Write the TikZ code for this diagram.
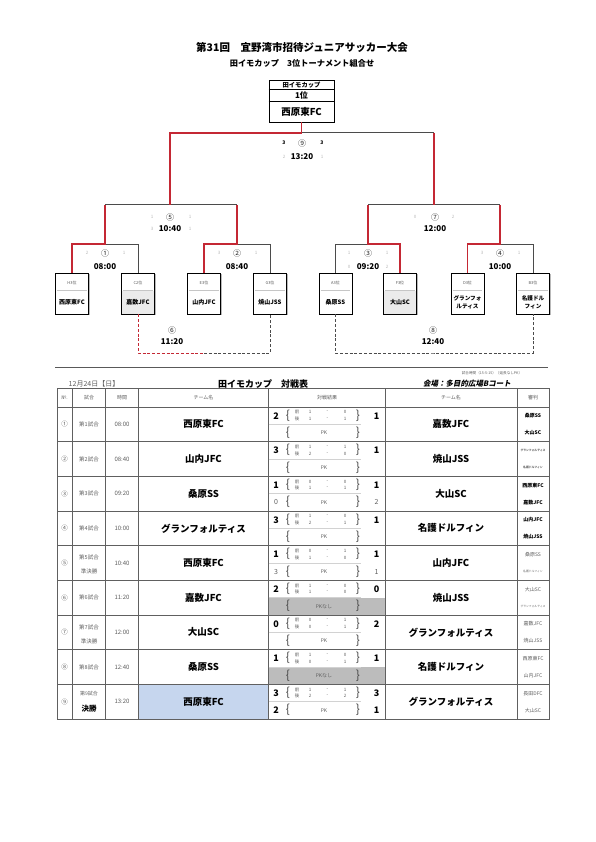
\documentclass[tikz,border=0pt]{standalone}
\usepackage{fontspec}
\setmainfont{Noto Sans CJK JP}
\newfontfamily\jpsl{Noto Sans CJK JP}[FakeSlant=0.2]
\usetikzlibrary{shadows}
\definecolor{brkred}{RGB}{196,40,52}
\definecolor{brkgray}{RGB}{75,75,75}
\definecolor{txtgray}{RGB}{95,95,95}
\definecolor{winblue}{RGB}{198,214,238}
\definecolor{pkgray}{RGB}{188,188,188}
\newcommand\myfs[1]{\fontsize{#1}{#1}\selectfont}
\begin{document}
\begin{tikzpicture}[x=1pt,y=-1pt,
  redln/.style={draw=brkred,line width=1.3pt},
  grayln/.style={draw=brkgray,line width=1pt},
  dashred/.style={draw=brkred,line width=0.9pt,dash pattern=on 3pt off 1.8pt},
  dashgray/.style={draw=brkgray,line width=0.9pt,dash pattern=on 3pt off 1.8pt},
  teambox/.style={draw=black,line width=0.7pt,fill=white,minimum width=33pt,minimum height=41pt,inner sep=0pt,
    drop shadow={shadow xshift=1.2pt,shadow yshift=-1.2pt,fill=gray!55,opacity=1}},
  champbox/.style={draw=black,line width=0.9pt,fill=white,minimum width=65pt,minimum height=42pt,inner sep=0pt,
    drop shadow={shadow xshift=1.2pt,shadow yshift=-1.2pt,fill=gray!55,opacity=1}},
  seed/.style={font=\myfs{4},text=gray!70!black,inner sep=0pt},
  tmname/.style={font=\bfseries\myfs{6},inner sep=0pt},
  mno/.style={font=\myfs{8},text=gray!35!black,inner sep=0pt},
  mtime/.style={font=\bfseries\myfs{8},inner sep=0pt},
  scmark/.style={font=\myfs{4.5},text=gray!55,inner sep=0pt},
  tline/.style={draw=gray!75!black,line width=0.5pt},
  midln/.style={draw=gray!35,line width=0.4pt},
  tname/.style={font=\bfseries\myfs{9.5},inner sep=0pt},
  tsmall/.style={font=\myfs{5.5},text=txtgray,inner sep=0pt},
  hdr/.style={font=\myfs{5},text=txtgray,inner sep=0pt},
  hsc/.style={font=\myfs{4.5},text=txtgray,inner sep=0pt},
  bsc/.style={font=\bfseries\myfs{9},inner sep=0pt},
  brc/.style={font=\myfs{12},text=gray!55!black,inner sep=0pt},
  pksc/.style={font=\myfs{7},text=txtgray,inner sep=0pt},
  refn/.style={font=\myfs{5},text=txtgray,inner sep=0pt}]

\useasboundingbox (0,0) rectangle (595,842);
\fill[white] (0,0) rectangle (595,842);

% ---------- titles ----------
\node[font=\bfseries\myfs{10.5},inner sep=0pt] (title) at (302,48) {第31回　宜野湾市招待ジュニアサッカー大会};
\node[font=\bfseries\myfs{8.2},inner sep=0pt] (sub) at (302,63) {田イモカップ　3位トーナメント組合せ};

% ---------- champion box ----------
\node[champbox] (champ) at (301.5,101) {};
\draw[line width=0.5pt] (champ.west |- 0,89) -- (champ.east |- 0,89);
\draw[line width=0.5pt] (champ.west |- 0,101) -- (champ.east |- 0,101);
\node[font=\bfseries\myfs{6.3},inner sep=0pt] (ch1) at (301.5,84.8) {田イモカップ};
\node[font=\bfseries\myfs{8},inner sep=0pt] (ch2) at (301.5,95) {1位};
\node[font=\bfseries\myfs{9.5},inner sep=0pt] (ch3) at (301.5,111.5) {西原東FC};

% ---------- team boxes ----------
\node[teambox] (t1) at (72,293.5) {};
\node[teambox] (t2) at (138,293.5) {};
\node[teambox] (t3) at (204,293.5) {};
\node[teambox] (t4) at (270,293.5) {};
\node[teambox] (t5) at (335.5,293.5) {};
\node[teambox] (t6) at (400,293.5) {};
\node[teambox] (t7) at (467.5,293.5) {};
\node[teambox] (t8) at (533,293.5) {};
\fill[gray!16] (121.9,290.5) rectangle (154.1,313.6);
\fill[gray!16] (383.9,290.5) rectangle (416.1,313.6);
\foreach \k in {1,...,8}{
  \draw[gray!45,line width=0.4pt] ([xshift=2pt,yshift=3.5pt]t\k.west) -- ([xshift=-2pt,yshift=3.5pt]t\k.east);
}
\node[seed] (sd1) at (72,283) {H3位};
\node[seed] (sd2) at (138,283) {C2位};
\node[seed] (sd3) at (204,283) {E3位};
\node[seed] (sd4) at (270,283) {G3位};
\node[seed] (sd5) at (335.5,283) {A3位};
\node[seed] (sd6) at (400,283) {F3位};
\node[seed] (sd7) at (467.5,283) {D3位};
\node[seed] (sd8) at (533,283) {B3位};
\node[tmname] (nm1) at (72,302) {西原東FC};
\node[tmname] (nm2) at (138,302) {嘉数JFC};
\node[tmname] (nm3) at (204,302) {山内JFC};
\node[tmname] (nm4) at (270,302) {焼山JSS};
\node[tmname] (nm5) at (335.5,302) {桑原SS};
\node[tmname] (nm6) at (400,302) {大山SC};
\node[tmname,font=\bfseries\myfs{5.6},align=center] (nm7) at (467.5,302) {グランフォ\\[2.5pt]ルティス};
\node[tmname,font=\bfseries\myfs{5.6},align=center] (nm8) at (533,302) {名護ドル\\[2.5pt]フィン};

% ---------- bracket coordinates ----------
\coordinate (top) at (champ.south |- 0,133);
\coordinate (tl) at (170,133);
\coordinate (tr) at (434,133);
\coordinate (s5) at (170,205);
\coordinate (s7) at (434,205);
\coordinate (q1) at (105,205);
\coordinate (q2) at (237,205);
\coordinate (q3) at (368,205);
\coordinate (q4) at (500,205);
\coordinate (m1) at (105,244);
\coordinate (m2) at (237,244);
\coordinate (m3) at (368,244);
\coordinate (m4) at (500,244);
\coordinate (d6) at (204,353);
\coordinate (d8) at (434,353);

% gray parts
\draw[grayln] (top) -- (tr);
\draw[grayln] (q1) -- (q2);
\draw[grayln] (q3) -- (q4);
\draw[grayln] (m1) -| (t2.north);
\draw[grayln] (m2) -| (t4.north);
\draw[grayln] (m3) -| (t5.north);
\draw[grayln] (m4) -| (t8.north);
% red (winner) parts
\draw[redln] (champ.south) -- (top) -- (tl) -- (s5);
\draw[redln] (tr) -- (s7);
\draw[redln] (q1) -- (m1) -| (t1.north);
\draw[redln] (q2) -- (m2) -| (t3.north);
\draw[redln] (q3) -- (m3) -| (t6.north);
\draw[redln] (q4) -- (m4) -| (t7.north);
% dashed
\draw[dashgray] (d6) -| (t4.south);
\draw[dashred] (t2.south) |- (d6);
\draw[dashgray] (t5.south) |- (d8) -| (t8.south);

% ---------- bracket labels ----------
\node[mno] (L9) at (302,143) {⑨};
\node[font=\bfseries\myfs{5},inner sep=0pt] (L9a) at (284,143) {3};
\node[font=\bfseries\myfs{5},inner sep=0pt] (L9b) at (322,143) {3};
\node[mtime] (L9t) at (302,157) {13:20};
\node[scmark] (L9c) at (284,157) {2};
\node[scmark] (L9d) at (322,157) {1};

\node[mno] (L5) at (170,217) {⑤};
\node[scmark] (L5a) at (152,217) {1};
\node[scmark] (L5b) at (190,217) {1};
\node[mtime] (L5t) at (170,228.5) {10:40};
\node[scmark] (L5c) at (152,228.5) {3};
\node[scmark] (L5d) at (190,228.5) {1};

\node[mno] (L7) at (435,217) {⑦};
\node[scmark] (L7a) at (415,217) {0};
\node[scmark] (L7b) at (453,217) {2};
\node[mtime] (L7t) at (435,228.5) {12:00};

\node[mno] (L1) at (105,253) {①};
\node[scmark] (L1a) at (87,253) {2};
\node[scmark] (L1b) at (124,253) {1};
\node[mtime] (L1t) at (105,267) {08:00};

\node[mno] (L2) at (237,253) {②};
\node[scmark] (L2a) at (219,253) {3};
\node[scmark] (L2b) at (256,253) {1};
\node[mtime] (L2t) at (237,267) {08:40};

\node[mno] (L3) at (368,253) {③};
\node[scmark] (L3a) at (349,253) {1};
\node[scmark] (L3b) at (387,253) {1};
\node[mtime] (L3t) at (368,267) {09:20};
\node[scmark] (L3c) at (349,267) {0};
\node[scmark] (L3d) at (387,267) {2};

\node[mno] (L4) at (500,253) {④};
\node[scmark] (L4a) at (482,253) {3};
\node[scmark] (L4b) at (519,253) {1};
\node[mtime] (L4t) at (500,267) {10:00};

\node[mno] (L6) at (172,330) {⑥};
\node[mtime] (L6t) at (172,342) {11:20};
\node[mno] (L8) at (433,330) {⑧};
\node[mtime] (L8t) at (433,342) {12:40};

% ---------- table header area ----------
\draw[draw=gray!70!black,line width=1pt] (55,367) -- (548,367);
\node[font=\myfs{3.6},text=txtgray,inner sep=0pt] (note) at (492,373) {試合時間（15-5-15）（延長なしPK）};
\node[font=\myfs{7},text=txtgray,inner sep=0pt] (date) at (94,384) {12月24日【日】};
\node[font=\bfseries\myfs{9},inner sep=0pt] (ttl2) at (263,384) {田イモカップ　対戦表};
\node[font=\jpsl\bfseries\myfs{7.5},inner sep=0pt] (venue) at (467,384) {会場：多目的広場Bコート};

% fills
\fill[winblue] (138.5,684.36) rectangle (268.5,719.03);
\fill[pkgray] (268.5,597.68) rectangle (385,615.02);
\fill[pkgray] (268.5,667.02) rectangle (385,684.36);

% grid
\draw[tline] (57,388) rectangle (549,719.03);
\foreach \r in {0,...,8}{
  \draw[tline] (57,{407+34.67*\r}) -- (549,{407+34.67*\r});
}
\foreach \c in {72,105.5,138.5,268.5,385,517}{
  \draw[tline] (\c,388) -- (\c,719.03);
}
\foreach \r in {1,...,9}{
  \draw[midln] (268.5,{407+34.67*(\r-1)+17.33}) -- (361,{407+34.67*(\r-1)+17.33});
}

% header texts
\node[hdr] (h1) at (64.5,397.5) {№.};
\node[hdr] (h2) at (89,397.5) {試合};
\node[hdr] (h3) at (122,397.5) {時間};
\node[hdr] (h4) at (203.5,397.5) {チーム名};
\node[hdr] (h5) at (327,397.5) {対戦結果};
\node[hdr] (h6) at (451,397.5) {チーム名};
\node[hdr] (h7) at (533,397.5) {審判};

% rows
\foreach \i/\ta/\sa/\fa/\fb/\ga/\gb/\sb/\tb in {
 1/西原東FC/2/1/0/1/1/1/嘉数JFC,
 2/山内JFC/3/1/1/2/0/1/焼山JSS,
 3/桑原SS/1/0/0/1/1/1/大山SC,
 4/グランフォルティス/3/1/0/2/1/1/名護ドルフィン,
 5/西原東FC/1/0/1/1/0/1/山内JFC,
 6/嘉数JFC/2/1/0/1/0/0/焼山JSS,
 7/大山SC/0/0/1/0/1/2/グランフォルティス,
 8/桑原SS/1/1/0/0/1/1/名護ドルフィン,
 9/西原東FC/3/1/1/2/2/3/グランフォルティス}{
  \pgfmathsetmacro\yt{407+34.67*(\i-1)}
  \node[tname] (ta\i) at (203.5,\yt+17.3) {\ta};
  \node[tname] (tb\i) at (451,\yt+17.3) {\tb};
  \node[bsc] (sa\i) at (276,\yt+8.8) {\sa};
  \node[bsc] (sb\i) at (376.5,\yt+8.8) {\sb};
  \node[hsc] (zf\i) at (297,\yt+5.2) {前};
  \node[hsc] (zg\i) at (297,\yt+11.8) {後};
  \node[hsc] (fa\i) at (310,\yt+5.2) {\fa};
  \node[hsc] (fd\i) at (327.5,\yt+5.2) {-};
  \node[hsc] (fb\i) at (345,\yt+5.2) {\fb};
  \node[hsc] (ga\i) at (310,\yt+11.8) {\ga};
  \node[hsc] (gd\i) at (327.5,\yt+11.8) {-};
  \node[hsc] (gb\i) at (345,\yt+11.8) {\gb};
  \node[brc] (bl\i) at (288,\yt+8.4) {\{};
  \node[brc] (br\i) at (358,\yt+8.4) {\}};
  \node[brc] (bm\i) at (288,\yt+25.6) {\{};
  \node[brc] (bn\i) at (358,\yt+25.6) {\}};
}

% number, match and time columns
\foreach \i/\no/\tm in {1/①/08:00,2/②/08:40,3/③/09:20,4/④/10:00,5/⑤/10:40,6/⑥/11:20,7/⑦/12:00,8/⑧/12:40,9/⑨/13:20}{
  \pgfmathsetmacro\yt{407+34.67*(\i-1)}
  \node[font=\myfs{6.5},text=txtgray,inner sep=0pt] (no\i) at (64.5,\yt+17.3) {\no};
  \node[font=\myfs{6},text=txtgray,inner sep=0pt] (tm\i) at (122,\yt+17.3) {\tm};
}
\foreach \i in {1,2,3,4,6,8}{
  \pgfmathsetmacro\yt{407+34.67*(\i-1)}
  \node[tsmall] (ma\i) at (89,\yt+17.3) {第\i 試合};
}
\node[tsmall] (ma5) at (89,557.7) {第5試合};
\node[tsmall] (mb5) at (89,571.7) {準決勝};
\node[tsmall] (ma7) at (89,627) {第7試合};
\node[tsmall] (mb7) at (89,641) {準決勝};
\node[tsmall,font=\myfs{5}] (ma9) at (89,694) {第9試合};
\node[font=\bfseries\myfs{7.5},inner sep=0pt] (mb9) at (89,708.5) {決勝};

% PK labels
\foreach \i in {1,2,3,4,5,7,9}{
  \pgfmathsetmacro\yt{407+34.67*(\i-1)}
  \node[hsc,font=\myfs{5}] (pk\i) at (324,\yt+26) {PK};
}
\node[hsc,font=\myfs{5}] (pk6) at (324,606.35) {PKなし};
\node[hsc,font=\myfs{5}] (pk8) at (324,675.7) {PKなし};
\node[pksc] (pa3) at (276,502.3) {0};
\node[pksc] (pb3) at (376.5,502.3) {2};
\node[pksc] (pa5) at (276,571.7) {3};
\node[pksc] (pb5) at (376.5,571.7) {1};
\node[bsc] (pa9) at (276,710.4) {2};
\node[bsc] (pb9) at (376.5,710.4) {1};

% referees
\foreach \i/\ra/\rb in {
 1/{\bfseries\color{black}桑原SS}/{\bfseries\color{black}大山SC},
 2/{\myfs{2.8}\bfseries グランフォルティス}/{\myfs{2.8}\bfseries 名護ドルフィン},
 3/{\bfseries\color{black}西原東FC}/{\bfseries\color{black}嘉数JFC},
 4/{\bfseries\color{black}山内JFC}/{\bfseries\color{black}焼山JSS},
 5/{桑原SS}/{\myfs{2.8}名護ドルフィン},
 6/{大山SC}/{\myfs{2.8}グランフォルティス},
 7/{嘉数JFC}/{焼山JSS},
 8/{西原東FC}/{山内JFC},
 9/{長田DFC}/{大山SC}}{
  \pgfmathsetmacro\yt{407+34.67*(\i-1)}
  \node[refn] (ra\i) at (533,\yt+9) {\ra};
  \node[refn] (rb\i) at (533,\yt+26) {\rb};
}
\end{tikzpicture}
\end{document}
